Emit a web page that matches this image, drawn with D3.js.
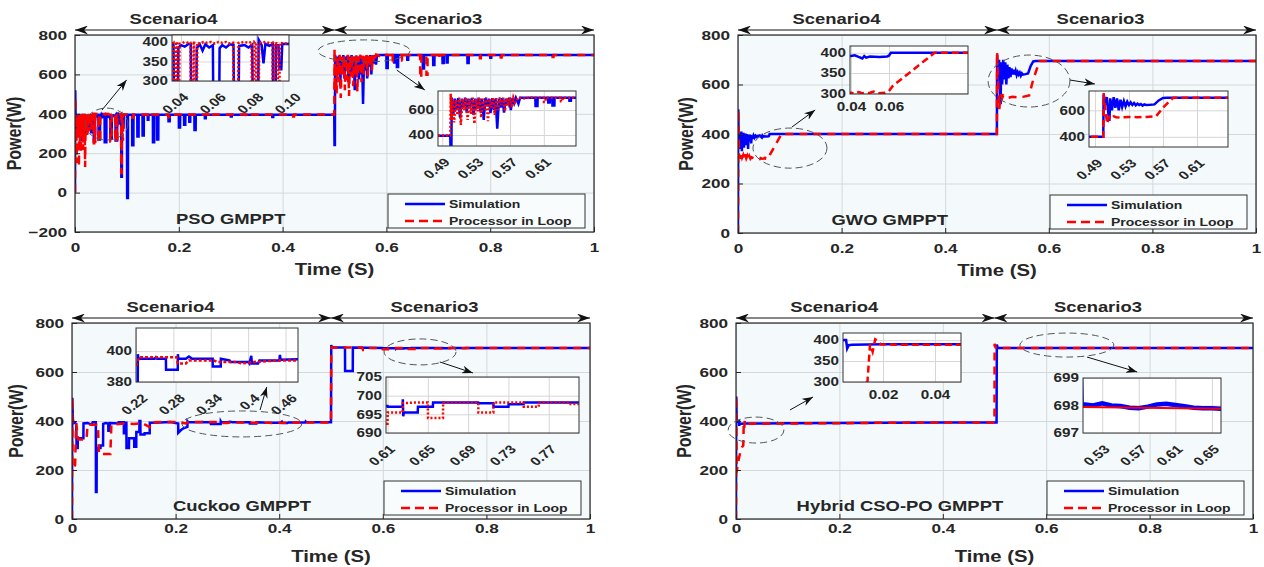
<!DOCTYPE html>
<html>
<head>
<meta charset="utf-8">
<script src="https://cdn.jsdelivr.net/npm/d3@7"></script>
<style>
  body { margin: 0; background: #fff; }
  svg text { font-family: "Liberation Sans", Arial, sans-serif; font-weight: bold; fill: #262626; }
</style>
</head>
<body>
<svg id="chart" width="1264" height="567"></svg>
<script>
// ---- data: [time (s), power (W)] ----
var timeTicks = [0, 0.2, 0.4, 0.6, 0.8, 1];
var timeTickLabels = ["0", "0.2", "0.4", "0.6", "0.8", "1"];
var powerTicksPso = [-200, 0, 200, 400, 600, 800];
var powerTicks = [0, 200, 400, 600, 800];
var scenarioNames = ["Scenario4", "Scenario3"];
var scenarioSpans = [[0, 0.5], [0.5, 1]];
var seriesNames = ["Simulation", "Processor in Loop"];
var methodNames = ["PSO GMPPT", "GWO GMPPT", "Cuckoo GMPPT", "Hybrid CSO-PO GMPPT"];

// zoom-window ticks
var psoZoomAX = [0.04, 0.06, 0.08, 0.10], psoZoomAXLabels = ["0.04", "0.06", "0.08", "0.10"];
var zoomStartY = [300, 350, 400];
var scen3ZoomX = [0.49, 0.53, 0.57, 0.61], scen3ZoomXLabels = ["0.49", "0.53", "0.57", "0.61"];
var scen3ZoomY = [400, 600];
var gwoZoomAX = [0.04, 0.06], gwoZoomAXLabels = ["0.04", "0.06"];
var ckZoomAX = [0.22, 0.28, 0.34, 0.40, 0.46], ckZoomAXLabels = ["0.22", "0.28", "0.34", "0.4", "0.46"];
var ckZoomAY = [380, 400];
var ckZoomBX = [0.61, 0.65, 0.69, 0.73, 0.77], ckZoomBXLabels = ["0.61", "0.65", "0.69", "0.73", "0.77"];
var ckZoomBY = [690, 695, 700, 705];
var hyZoomAX = [0.02, 0.04], hyZoomAXLabels = ["0.02", "0.04"];
var hyZoomBX = [0.53, 0.57, 0.61, 0.65], hyZoomBXLabels = ["0.53", "0.57", "0.61", "0.65"];
var hyZoomBY = [697, 698, 699];

var psoSim = [[0,0],[0.0005,520],[0.0015,300],[0.0025,400],[0.0035,320],[0.0045,395],[0.0055,280],[0.0065,390],[0.0075,340],[0.0085,400],
  [0.0095,300],[0.0105,395],[0.0115,260],[0.0125,385],[0.0135,330],[0.0145,400],[0.0155,310],[0.0165,395],[0.0175,350],[0.0185,400],
  [0.0195,290],[0.0205,390],[0.0215,330],[0.0225,395],[0.0235,300],[0.0245,390],[0.0255,350],[0.0265,398],[0.0275,315],[0.0285,395],
  [0.0295,355],[0.0305,398],[0.0315,300],[0.0325,392],[0.0335,360],[0.0345,395],
  [0.0360,392],[0.0362,260],[0.0384,260],[0.0386,385],[0.0400,392],[0.0420,388],[0.0440,395],[0.0452,395],[0.0454,270],[0.0482,270],
  [0.0484,385],[0.0500,394],[0.0515,378],[0.0530,394],[0.0550,386],[0.0570,392],[0.0572,255],[0.0604,255],[0.0606,384],[0.0620,392],
  [0.0640,386],[0.0660,394],[0.0680,392],[0.0682,275],[0.0708,275],[0.0710,390],[0.0740,392],[0.0760,386],[0.0780,393],[0.0782,265],
  [0.0812,265],[0.0814,406],[0.0830,392],[0.0840,345],[0.0850,395],[0.0870,390],[0.0890,395],[0.0892,80],[0.0904,80],[0.0906,392],
  [0.0920,392],[0.0925,330],[0.0935,330],[0.0940,395],[0.1000,395],[0.1005,-27],[0.1020,-27],[0.1022,395],
  [0.1100,395],[0.1102,240],[0.1125,240],[0.1127,395],[0.1200,395],[0.1202,285],[0.1225,285],[0.1227,395],[0.1300,395],[0.1302,290],
  [0.1325,290],[0.1327,395],[0.1400,395],[0.1402,370],[0.1415,370],[0.1417,395],[0.1500,395],[0.1502,255],[0.1525,255],[0.1527,395],
  [0.1580,395],[0.1582,270],[0.1605,270],[0.1607,395],[0.1800,395],[0.1802,362],[0.1825,362],[0.1827,395],[0.2000,395],[0.2002,330],
  [0.2025,330],[0.2027,395],[0.2100,395],[0.2102,345],[0.2125,345],[0.2127,395],[0.2200,395],[0.2202,360],[0.2220,360],[0.2222,395],
  [0.2300,395],[0.2302,318],[0.2325,318],[0.2327,395],[0.2500,395],[0.2502,378],[0.2520,378],[0.2522,395],[0.3000,395],[0.3002,386],
  [0.3020,386],[0.3022,395],[0.3800,395],[0.3802,384],[0.3820,384],[0.3822,395],[0.4995,395],
  [0.5000,242],[0.5008,242],[0.5012,700],[0.5030,560],[0.5050,690],[0.5070,600],[0.5090,695],[0.5110,540],[0.5130,690],[0.5150,620],
  [0.5170,698],[0.5190,580],[0.5210,690],[0.5230,640],[0.5250,695],[0.5270,560],[0.5290,690],[0.5310,610],[0.5330,698],[0.5350,590],
  [0.5370,690],[0.5390,520],[0.5410,695],[0.5430,630],[0.5450,690],[0.5470,575],[0.5490,695],[0.5510,600],[0.5530,690],[0.5550,450],
  [0.5570,690],[0.5590,620],[0.5610,695],[0.5630,580],[0.5650,690],[0.5670,640],[0.5690,698],[0.5710,600],[0.5730,695],[0.5750,655],
  [0.5770,698],[0.5800,650],[0.5820,698],[0.6000,698],[0.6002,632],[0.6025,632],[0.6027,698],[0.6150,698],[0.6152,660],[0.6170,660],
  [0.6172,698],[0.6200,698],[0.6202,637],[0.6225,637],[0.6227,698],[0.6400,698],[0.6402,675],[0.6420,675],[0.6422,698],[0.6700,698],
  [0.6702,630],[0.6725,630],[0.6727,698],[0.6900,698],[0.6902,648],[0.6925,648],[0.6927,698],[0.7080,698],[0.7082,658],[0.7105,658],
  [0.7107,698],[0.7160,698],[0.7162,660],[0.7180,660],[0.7182,698],[0.7560,698],[0.7562,658],[0.7585,658],[0.7587,698],[0.8000,698],
  [0.8002,685],[0.8020,685],[0.8022,698],[1.0000,698]];

var psoPil = [[0,0],[0.0005,480],[0.0015,220],[0.0025,390],[0.0035,150],[0.0045,380],[0.0055,300],[0.0065,400],[0.0075,130],[0.0085,385],
  [0.0095,260],[0.0105,395],[0.0115,200],[0.0125,390],[0.0135,320],[0.0145,400],[0.0155,215],[0.0165,392],[0.0175,300],[0.0185,400],
  [0.0195,130],[0.0205,385],[0.0215,330],[0.0225,398],[0.0235,290],[0.0245,395],[0.0255,340],[0.0265,400],[0.0275,310],[0.0285,395],
  [0.0295,350],[0.0305,400],[0.0315,320],[0.0325,398],[0.0340,360],[0.0350,400],
  [0.0360,400],[0.0362,250],[0.0372,250],[0.0374,400],[0.0378,400],[0.0380,260],[0.0390,260],[0.0392,395],[0.0420,400],[0.0440,398],
  [0.0450,398],[0.0452,255],[0.0465,255],[0.0467,400],[0.0470,402],[0.0472,260],[0.0485,260],[0.0487,398],[0.0500,396],[0.0520,400],
  [0.0540,398],[0.0560,400],[0.0580,396],[0.0600,400],[0.0620,398],[0.0640,400],[0.0660,396],[0.0678,398],[0.0680,260],[0.0705,260],
  [0.0707,398],[0.0740,400],[0.0760,398],[0.0776,400],[0.0778,255],[0.0790,255],[0.0792,400],[0.0800,398],[0.0802,262],[0.0815,262],
  [0.0817,398],[0.0850,400],[0.0880,396],[0.0888,398],[0.0890,100],[0.0900,100],[0.0902,398],[0.0915,396],[0.0917,270],[0.0925,270],
  [0.0927,398],[0.0960,396],[0.1000,398],
  [0.1100,396],[0.1102,380],[0.1120,380],[0.1122,396],[0.1400,396],[0.1402,385],[0.1420,385],[0.1422,396],[0.1800,396],[0.1802,382],
  [0.1820,382],[0.1822,396],[0.2600,396],[0.2602,385],[0.2620,385],[0.2622,396],[0.3300,396],[0.3302,388],[0.3320,388],[0.3322,396],
  [0.4200,396],[0.4202,386],[0.4220,386],[0.4222,396],[0.4995,396],
  [0.5000,730],[0.5008,520],[0.5020,690],[0.5040,500],[0.5060,680],[0.5080,560],[0.5100,700],[0.5120,480],[0.5140,690],[0.5160,600],
  [0.5180,700],[0.5200,520],[0.5220,685],[0.5240,570],[0.5260,700],[0.5280,490],[0.5300,690],[0.5320,590],[0.5340,700],[0.5360,540],
  [0.5380,690],[0.5400,600],[0.5420,700],[0.5440,510],[0.5460,690],[0.5480,620],[0.5500,700],[0.5520,560],[0.5540,695],[0.5560,600],
  [0.5580,700],[0.5600,640],[0.5620,698],[0.5640,590],[0.5660,695],[0.5680,650],[0.5700,700],[0.5720,620],[0.5740,698],[0.5760,660],
  [0.5800,700],[0.5900,690],[0.5920,700],[0.6100,698],[0.6102,665],[0.6120,665],[0.6122,698],[0.6300,698],[0.6302,670],[0.6320,670],
  [0.6322,698],[0.6650,698],[0.6652,582],[0.6672,582],[0.6674,698],[0.6770,698],[0.6772,598],[0.6792,598],[0.6794,698],[0.7000,698],
  [0.7002,680],[0.7020,680],[0.7022,698],[0.7800,698],[0.7802,682],[0.7820,682],[0.7822,698],[0.8200,698],[0.8202,686],[0.8220,686],
  [0.8222,698],[0.9200,698],[0.9202,688],[0.9220,688],[0.9222,698],[1.0000,698]];

var gwoSim = [[0,0],[0.0005,500],[0.0015,360],[0.0025,405],[0.0035,340],[0.0045,400],[0.0055,350],[0.0065,410],[0.0075,330],[0.0085,400],
  [0.0095,360],[0.0105,405],[0.0115,345],[0.0125,400],[0.0135,360],[0.0145,402],[0.0155,355],[0.0165,400],[0.0175,365],[0.0185,398],
  [0.0195,340],[0.0205,395],[0.0215,370],[0.0225,398],[0.0235,375],[0.0245,396],[0.0255,362],[0.0265,395],[0.0280,380],[0.0300,394],
  [0.0320,385],[0.0340,393],[0.0360,388],[0.0380,392],[0.0400,392],[0.0420,394],[0.0440,390],[0.0460,386],[0.0470,392],[0.0480,388],
  [0.0500,391],[0.0550,390],[0.0590,391],[0.0600,393],[0.0610,400],[0.4998,400],
  [0.5002,720],[0.5020,640],[0.5040,700],[0.5060,560],[0.5070,520],[0.5080,690],[0.5100,600],[0.5120,700],[0.5140,620],[0.5160,690],
  [0.5180,600],[0.5200,680],[0.5220,625],[0.5240,670],[0.5260,630],[0.5280,665],[0.5300,640],[0.5320,660],[0.5340,640],[0.5360,655],
  [0.5380,638],[0.5400,650],[0.5420,640],[0.5440,648],[0.5460,636],[0.5480,645],[0.5500,640],[0.5550,642],[0.5600,645],[0.5650,675],
  [0.5700,693],[0.5750,695],[1.0000,695]];

var gwoPil = [[0,0],[0.0005,500],[0.0020,320],[0.0040,300],[0.0060,325],[0.0080,305],[0.0100,315],[0.0120,298],[0.0140,318],[0.0160,302],
  [0.0180,312],[0.0200,296],[0.0220,310],[0.0240,300],[0.0260,306],[0.0300,302],[0.0350,300],[0.0400,301],[0.0420,299],[0.0440,303],
  [0.0460,300],[0.0500,301],[0.0520,304],[0.0540,300],[0.0580,301],[0.0600,305],[0.0620,318],[0.0840,400],[0.4998,400],
  [0.5002,730],[0.5030,560],[0.5045,500],[0.5060,540],[0.5080,560],[0.5100,545],[0.5120,555],[0.5150,548],[0.5200,545],[0.5300,550],
  [0.5400,548],[0.5500,550],[0.5620,556],[0.5700,620],[0.5820,695],[1.0000,695]];

var ckSim = [[0,0],[0.0005,495],[0.0020,390],[0.0050,395],[0.0080,388],[0.0090,290],[0.0110,290],[0.0112,330],[0.0220,330],[0.0222,390],
  [0.0300,392],[0.0380,385],[0.0400,395],[0.0460,395],[0.0462,110],[0.0475,110],[0.0477,290],[0.0550,290],[0.0552,300],[0.0600,300],
  [0.0602,388],[0.0650,392],[0.0700,390],[0.0702,360],[0.0730,360],[0.0732,392],[0.0900,390],[0.0902,395],[0.1000,395],[0.1002,350],
  [0.1020,350],[0.1022,393],[0.1050,393],[0.1052,290],[0.1100,290],[0.1102,330],[0.1200,330],[0.1202,295],[0.1240,295],[0.1242,355],
  [0.1300,355],[0.1302,400],[0.1320,400],[0.1322,345],[0.1400,345],[0.1402,350],[0.1500,350],[0.1502,393],[0.1700,394],[0.1900,396],
  [0.2000,392],[0.2050,390],[0.2052,352],[0.2100,362],[0.2150,370],[0.2228,376],[0.2230,398],[0.2240,395],[0.2500,395],[0.2520,396],
  [0.2540,395],[0.2680,395],[0.2682,388],[0.2870,388],[0.2872,398],[0.2880,395],[0.3000,395],[0.3050,396.5],[0.3100,395],[0.3430,395],
  [0.3432,390],[0.3560,390],[0.3562,395],[0.3700,394],[0.3720,393],[0.4000,393],[0.4020,392],[0.4050,397],[0.4060,392],[0.4160,392],
  [0.4180,394],[0.4500,394],[0.4510,397.5],[0.4520,394.5],[0.4995,395],
  [0.5000,395],[0.5005,710],[0.5015,700],[0.5270,700],[0.5272,604],[0.5420,604],[0.5422,700],[0.5990,698],[0.6000,697.2],[0.6100,697.2],
  [0.6102,697],[0.6250,697],[0.6252,699],[0.6256,694.5],[0.6262,695.5],[0.6400,695.5],[0.6402,697],[0.6550,697],[0.6552,698.2],
  [0.7000,698.2],[0.7002,698],[0.7150,698],[0.7152,697],[0.7300,697],[0.7302,697.7],[0.7450,697.7],[0.7452,698.2],[1.0000,698.2]];

var ckPil = [[0,0],[0.0005,497],[0.0010,220],[0.0040,205],[0.0060,220],[0.0080,390],[0.0120,325],[0.0280,325],[0.0300,385],[0.0500,385],
  [0.0520,265],[0.0740,265],[0.0760,385],[0.1000,390],[0.1200,388],[0.1350,392],[0.1500,375],[0.1520,395],[0.1800,396],[0.2100,396],
  [0.2150,392],[0.2200,390],[0.2250,396],[0.2850,396],[0.2870,392],[0.3000,392],[0.3050,394],[0.3450,394],[0.3500,393],[0.3800,393],
  [0.3900,392],[0.4100,393],[0.4500,394],[0.4995,394],
  [0.5000,394],[0.5005,700],[0.5600,700],[0.5620,690],[0.5650,690],[0.5670,698],[0.5990,698],[0.6000,692.5],[0.6100,692.5],
  [0.6102,695.5],[0.6250,695.5],[0.6252,698],[0.6400,698.2],[0.6500,698.2],[0.6502,694],[0.6650,694],[0.6652,698.2],[0.7000,698.2],
  [0.7002,695.5],[0.7150,695.5],[0.7152,698.2],[0.7450,698.2],[0.7452,697],[0.7600,697],[0.7602,698.2],[0.7900,698.2],[0.7902,697.8],
  [1.0000,697.8]];

var hySim = [[0,0],[0.0005,500],[0.0015,395],[0.0050,400],[0.0058,400],[0.0062,380],[0.0068,388],[0.0080,389],[0.0200,390],[0.0500,390],
  [0.1000,391],[0.2000,392],[0.3000,393],[0.4000,394],[0.5040,394],[0.5045,712],[0.5060,700],[0.5075,698.05],[0.5200,698.0],
  [0.5300,698.08],[0.5400,698.0],[0.5500,697.98],[0.5600,697.92],[0.5700,697.9],[0.5800,697.96],[0.5900,698.04],[0.6000,698.06],
  [0.6100,698.02],[0.6200,697.97],[0.6300,697.92],[0.6400,697.9],[0.6500,697.9],[0.6600,697.88],[1.0000,697.9]];

var hyPil = [[0,0],[0.0005,500],[0.0012,190],[0.0040,230],[0.0080,270],[0.0120,295],[0.0140,300],[0.0150,390],[0.0160,372],[0.0170,402],
  [0.0180,398],[0.0190,390],[0.0250,389],[0.0500,389],[0.1000,390],[0.2000,391],[0.3000,393],[0.4000,394],[0.5000,394],[0.5002,715],
  [0.5020,700],[0.5070,697.95],[0.6600,697.88],[1.0000,697.9]];

// ---- layout ----
var K = 1.27;                     // the source figure is stretched horizontally
var BLUE = "#0000ff", RED = "#ff0000";

var panels = [
  { name: methodNames[0], sim: psoSim, pil: psoPil, yTicks: powerTicksPso,
    box: [75, 594, 35, 232], tickPad: 10, yLabelGap: 54, titleT: 0.30,
    zooms: [
      { box: [172, 35, 117, 46], x: [0.0352, 0.0976], y: [300, 418], xt: psoZoomAX, xl: psoZoomAXLabels, yt: zoomStartY, rot: true, dash: "2,2" },
      { box: [438, 91, 138, 55], x: [0.485, 0.648], y: [312, 752], xt: scen3ZoomX, xl: scen3ZoomXLabels, yt: scen3ZoomY, rot: true, dash: "2,2" }
    ],
    notes: [[0.061, 348, 0.041, 81, 0.052, 419, 0.0995, 572], [0.557, 719, 0.0886, 56, 0.62, 622, 0.674, 521]] },
  { name: methodNames[1], sim: gwoSim, pil: gwoPil, yTicks: powerTicks,
    box: [738, 1256, 35, 233], tickPad: 10, yLabelGap: 45, titleT: 0.293,
    zooms: [
      { box: [850, 46, 118, 48], x: [0.0395, 0.1016], y: [298, 417], xt: gwoZoomAX, xl: gwoZoomAXLabels, yt: zoomStartY, rot: false, dash: "7,4" },
      { box: [1089, 91, 139, 56], x: [0.483, 0.6465], y: [323, 746], xt: scen3ZoomX, xl: scen3ZoomXLabels, yt: scen3ZoomY, rot: true, dash: "7,4" }
    ],
    notes: [[0.1004, 343, 0.0714, 81, 0.104, 428, 0.149, 497], [0.5618, 614, 0.079, 105, 0.641, 618, 0.689, 602]] },
  { name: methodNames[2], sim: ckSim, pil: ckPil, yTicks: powerTicks,
    box: [72, 590, 323, 519], tickPad: 4, yLabelGap: 49, titleT: 0.328,
    zooms: [
      { box: [136, 328, 162, 54], x: [0.22, 0.48], y: [380, 415], xt: ckZoomAX, xl: ckZoomAXLabels, yt: ckZoomAY, rot: true, dash: "3,2", ldx: 12 },
      { box: [386, 377, 193, 56], x: [0.6085, 0.80], y: [690, 705], xt: ckZoomBX, xl: ckZoomBXLabels, yt: ckZoomBY, rot: true, dash: "2,2" }
    ],
    notes: [[0.328, 388, 0.1158, 53, 0.363, 445, 0.376, 539], [0.672, 682, 0.0695, 53, 0.710, 641, 0.774, 596]] },
  { name: methodNames[3], sim: hySim, pil: hyPil, yTicks: powerTicks,
    box: [736, 1253, 323, 519], tickPad: 4, yLabelGap: 45, titleT: 0.317,
    zooms: [
      { box: [843, 333, 118, 49], x: [0.0046, 0.05], y: [300, 417], xt: hyZoomAX, xl: hyZoomAXLabels, yt: zoomStartY, rot: false, dash: "7,4" },
      { box: [1083, 378, 138, 55], x: [0.509, 0.66], y: [697, 699], xt: hyZoomBX, xl: hyZoomBXLabels, yt: hyZoomBY, rot: true, dash: null, simW: 4.5, pilW: 2 }
    ],
    notes: [[0.0387, 363, 0.054, 53, 0.1044, 445, 0.149, 498], [0.640, 710, 0.0909, 49, 0.679, 661, 0.776, 600]] }
];

var svg = d3.select("#chart");
var defs = svg.append("defs");

function marker(id, len, half) {
  defs.append("marker").attr("id", id)
    .attr("viewBox", "0 " + (-half) + " " + len + " " + (2 * half))
    .attr("refX", len).attr("refY", 0)
    .attr("markerWidth", len).attr("markerHeight", 2 * half)
    .attr("markerUnits", "userSpaceOnUse")
    .attr("orient", "auto-start-reverse")
    .append("path")
    .attr("d", "M0," + (-half) + "L" + len + ",0L0," + half + "L" + (len * 0.3) + ",0Z")
    .attr("fill", "#111");
}
marker("bigHead", 13, 4.5);
marker("smallHead", 11, 4);

// widen text horizontally around its own anchor point
function stretch(sel) {
  sel.each(function () {
    var t = d3.select(this);
    var x = +t.attr("x") || 0, y = +t.attr("y") || 0;
    t.attr("transform", "translate(" + x + "," + y + ") scale(" + K + ",1) translate(" + (-x) + "," + (-y) + ")");
  });
}

var clipId = 0;
function clipRect(x, y, w, h) {
  var id = "clip" + (clipId++);
  defs.append("clipPath").attr("id", id).append("rect")
    .attr("x", x).attr("y", y).attr("width", w).attr("height", h);
  return "url(#" + id + ")";
}

function drawZoom(g, z, p) {
  var bx = z.box[0], by = z.box[1], bw = z.box[2], bh = z.box[3];
  var x = d3.scaleLinear().domain(z.x).range([bx, bx + bw]);
  var y = d3.scaleLinear().domain(z.y).range([by + bh, by]);
  var zg = g.append("g");

  zg.append("rect").attr("x", bx).attr("y", by).attr("width", bw).attr("height", bh).attr("fill", "#fff");

  var inside = z.xt.filter(function (t) { return t >= z.x[0] && t <= z.x[1]; });
  var gx = zg.append("g").attr("transform", "translate(0," + (by + bh) + ")")
    .call(d3.axisBottom(x).tickValues(inside).tickSize(-bh).tickFormat(""));
  var gy = zg.append("g").attr("transform", "translate(" + bx + ",0)")
    .call(d3.axisLeft(y).tickValues(z.yt).tickSize(-bw).tickFormat(""));
  [gx, gy].forEach(function (a) {
    a.select(".domain").remove();
    a.selectAll("line").attr("stroke", "#d6d6d6");
  });

  var line = d3.line().x(function (d) { return x(d[0]); }).y(function (d) { return y(d[1]); });
  var clip = clipRect(bx, by, bw, bh);
  zg.append("path").datum(p.sim).attr("d", line).attr("clip-path", clip)
    .attr("fill", "none").attr("stroke", BLUE).attr("stroke-width", z.simW || 2.5);
  zg.append("path").datum(p.pil).attr("d", line).attr("clip-path", clip)
    .attr("fill", "none").attr("stroke", RED).attr("stroke-width", z.pilW || 2.5)
    .attr("stroke-dasharray", z.dash);

  zg.append("rect").attr("x", bx).attr("y", by).attr("width", bw).attr("height", bh)
    .attr("fill", "none").attr("stroke", "#333").attr("stroke-width", 1);

  var ly = zg.append("g").attr("transform", "translate(" + bx + ",0)")
    .call(d3.axisLeft(y).tickValues(z.yt).tickSize(0).tickPadding(4).tickFormat(d3.format("d")));
  ly.select(".domain").remove();
  ly.selectAll("text").style("font-size", "12px").attr("fill", "#262626");
  stretch(ly.selectAll("text"));

  var lx = zg.append("g").attr("transform", "translate(0," + (by + bh) + ")")
    .call(d3.axisBottom(x).tickValues(z.xt).tickSize(0).tickPadding(8)
      .tickFormat(function (d, i) { return z.xl[i]; }));
  lx.select(".domain").remove();
  lx.selectAll("text").style("font-size", "12px").attr("fill", "#262626");
  if (z.rot) {
    var dx = z.ldx || 8;
    lx.selectAll("text").attr("x", 0).attr("y", 0).attr("dy", 0)
      .attr("text-anchor", "end")
      .attr("transform", "translate(" + dx + ",17) scale(" + K + ",1) rotate(-45)");
  } else {
    stretch(lx.selectAll("text"));
  }
}

function drawPanel(p) {
  var x0 = p.box[0], x1 = p.box[1], y0 = p.box[2], y1 = p.box[3];
  var x = d3.scaleLinear().domain([0, 1]).range([x0, x1]);
  var y = d3.scaleLinear().domain(d3.extent(p.yTicks)).range([y1, y0]);
  var g = svg.append("g");

  g.append("rect").attr("x", x0).attr("y", y0).attr("width", x1 - x0).attr("height", y1 - y0).attr("fill", "#f4fafc");

  var gx = g.append("g").attr("transform", "translate(0," + y1 + ")")
    .call(d3.axisBottom(x).tickValues(timeTicks).tickSize(-(y1 - y0)).tickFormat(""));
  var gy = g.append("g").attr("transform", "translate(" + x0 + ",0)")
    .call(d3.axisLeft(y).tickValues(p.yTicks).tickSize(-(x1 - x0)).tickFormat(""));
  [gx, gy].forEach(function (a) {
    a.select(".domain").remove();
    a.selectAll("line").attr("stroke", "#d4d8da");
  });

  var line = d3.line().x(function (d) { return x(d[0]); }).y(function (d) { return y(d[1]); });
  var clip = clipRect(x0, y0 - 2, x1 - x0, y1 - y0 + 4);
  g.append("path").datum(p.sim).attr("d", line).attr("clip-path", clip)
    .attr("fill", "none").attr("stroke", BLUE).attr("stroke-width", 2.5);
  g.append("path").datum(p.pil).attr("d", line).attr("clip-path", clip)
    .attr("fill", "none").attr("stroke", RED).attr("stroke-width", 2.5).attr("stroke-dasharray", "8,6");

  g.append("rect").attr("x", x0).attr("y", y0).attr("width", x1 - x0).attr("height", y1 - y0)
    .attr("fill", "none").attr("stroke", "#262626").attr("stroke-width", 1.2);

  // axes with short inward ticks
  var ax = g.append("g").attr("transform", "translate(0," + y1 + ")")
    .call(d3.axisBottom(x).tickValues(timeTicks).tickSizeInner(-5).tickSizeOuter(0).tickPadding(p.tickPad)
      .tickFormat(function (d, i) { return timeTickLabels[i]; }));
  var ay = g.append("g").attr("transform", "translate(" + x0 + ",0)")
    .call(d3.axisLeft(y).tickValues(p.yTicks).tickSizeInner(-5).tickSizeOuter(0).tickPadding(8));
  [ax, ay].forEach(function (a) {
    a.select(".domain").remove();
    a.selectAll("line").attr("stroke", "#262626");
    a.selectAll("text").style("font-size", "13.5px").attr("fill", "#262626");
    stretch(a.selectAll("text"));
  });

  // axis titles
  g.append("text").attr("x", x(0.5)).attr("y", y1 + 43).attr("text-anchor", "middle")
    .style("font-size", "16px").text("Time (S)").call(stretch);
  g.append("text").attr("text-anchor", "middle").style("font-size", "16px")
    .attr("transform", "translate(" + (x0 - p.yLabelGap) + "," + ((y0 + y1) / 2) + ") scale(" + K + ",1) rotate(-90)")
    .text("Power(W)");

  // method label
  g.append("text").attr("x", x(p.titleT)).attr("y", y1 - 8).attr("text-anchor", "middle")
    .style("font-size", "14.5px").attr("fill", "#111").text(p.name).call(stretch);

  // scenario spans
  scenarioSpans.forEach(function (s, i) {
    g.append("line").attr("x1", x(s[0])).attr("x2", x(s[1])).attr("y1", y0 - 5).attr("y2", y0 - 5)
      .attr("stroke", "#111").attr("stroke-width", 1.2)
      .attr("marker-start", "url(#bigHead)").attr("marker-end", "url(#bigHead)");
    g.append("text").attr("x", x(i === 0 ? 0.19 : 0.70)).attr("y", y0 - 11).attr("text-anchor", "middle")
      .style("font-size", "14.5px").attr("fill", "#111").text(scenarioNames[i]).call(stretch);
  });

  // zoom markers: dashed ellipse + arrow
  p.notes.forEach(function (n) {
    g.append("ellipse").attr("cx", x(n[0])).attr("cy", y(n[1]))
      .attr("rx", x(n[0] + n[2]) - x(n[0])).attr("ry", y(n[1] - n[3]) - y(n[1]))
      .attr("fill", "none").attr("stroke", "#555").attr("stroke-width", 1).attr("stroke-dasharray", "7,4");
  });

  p.zooms.forEach(function (z) { drawZoom(g, z, p); });

  p.notes.forEach(function (n) {
    g.append("line").attr("x1", x(n[4])).attr("y1", y(n[5])).attr("x2", x(n[6])).attr("y2", y(n[7]))
      .attr("stroke", "#111").attr("stroke-width", 1).attr("marker-end", "url(#smallHead)");
  });

  // legend
  var lg = g.append("g").attr("transform", "translate(" + (x1 - 206) + "," + (y1 - 38) + ")");
  lg.append("rect").attr("width", 197).attr("height", 34).attr("fill", "#f8fcfd").attr("stroke", "#333");
  [[BLUE, null], [RED, "9,5"]].forEach(function (s, i) {
    var ly = 10 + 17 * i;
    lg.append("line").attr("x1", 17).attr("x2", 57).attr("y1", ly).attr("y2", ly)
      .attr("stroke", s[0]).attr("stroke-width", 2.5).attr("stroke-dasharray", s[1]);
    lg.append("text").attr("x", 61).attr("y", ly).attr("dy", "0.35em")
      .style("font-size", "11px").attr("fill", "#111").text(seriesNames[i]).call(stretch);
  });
}

panels.forEach(drawPanel);
</script>
</body>
</html>
